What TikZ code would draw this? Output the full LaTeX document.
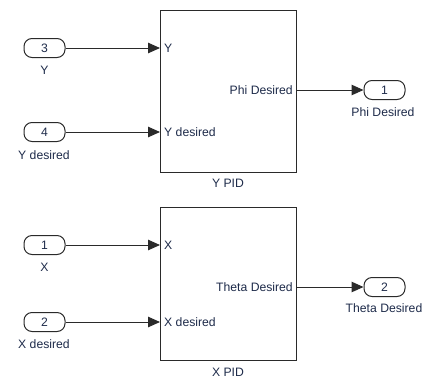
\documentclass[tikz,border=0pt]{standalone}
\usepackage{fontspec}
\setmainfont{Liberation Sans}
\usetikzlibrary{arrows.meta}
\definecolor{txt}{HTML}{1E2B4A}
\definecolor{edge}{HTML}{2A2A2A}
\tikzset{
  every node/.style={font=\fontsize{12.2}{14}\selectfont, text=txt, inner sep=0pt},
  block/.style={draw=edge, line width=1pt, fill=white},
  port/.style={draw=edge, line width=1pt, rounded corners=8pt, minimum width=41pt, minimum height=19pt},
  sig/.style={draw=edge, line width=1pt, -{Triangle[length=12pt,width=10.5pt]}},
}
\begin{document}
\begin{tikzpicture}[x=1pt,y=-1pt]
\useasboundingbox (0,0) rectangle (428,378);

% ---- Y PID subsystem ----
\draw[block] (160,10) rectangle (296,172);
\coordinate (ypidL1) at (160,48);
\coordinate (ypidL2) at (160,132);
\coordinate (ypidR) at (296,90);
\node[anchor=west] (ypY) at (164,48) {Y};
\node[anchor=west] (ypYd) at (164,132) {Y desired};
\node[anchor=east] (ypPhi) at (293,90) {Phi Desired};
\node (ypidname) at (228,183) {Y PID};

\node[port] (in3) at (44.5,48) {3};
\node (in3lbl) at (44.5,70) {Y};
\node[port] (in4) at (44.5,132) {4};
\node (in4lbl) at (44,155) {Y desired};

\node[port] (out1) at (384.5,90) {1};
\node (out1lbl) at (383,112) {Phi Desired};

\draw[sig] (in3.east) -- (ypidL1);
\draw[sig] (in4.east) -- (ypidL2);
\draw[sig] (ypidR) -- (out1.west);

% ---- X PID subsystem ----
\draw[block] (160,207) rectangle (296,360);
\coordinate (xpidL1) at (160,245);
\coordinate (xpidL2) at (160,322);
\coordinate (xpidR) at (296,287);
\node[anchor=west] (xpX) at (164,245) {X};
\node[anchor=west] (xpXd) at (164,322) {X desired};
\node[anchor=east] (xpTh) at (293,287) {Theta Desired};
\node (xpidname) at (228,372) {X PID};

\node[port] (in1) at (44.5,245) {1};
\node (in1lbl) at (44.5,267) {X};
\node[port] (in2) at (44.5,322) {2};
\node (in2lbl) at (44,344) {X desired};

\node[port] (out2) at (384.5,287) {2};
\node (out2lbl) at (384,308) {Theta Desired};

\draw[sig] (in1.east) -- (xpidL1);
\draw[sig] (in2.east) -- (xpidL2);
\draw[sig] (xpidR) -- (out2.west);
\end{tikzpicture}
\end{document}
